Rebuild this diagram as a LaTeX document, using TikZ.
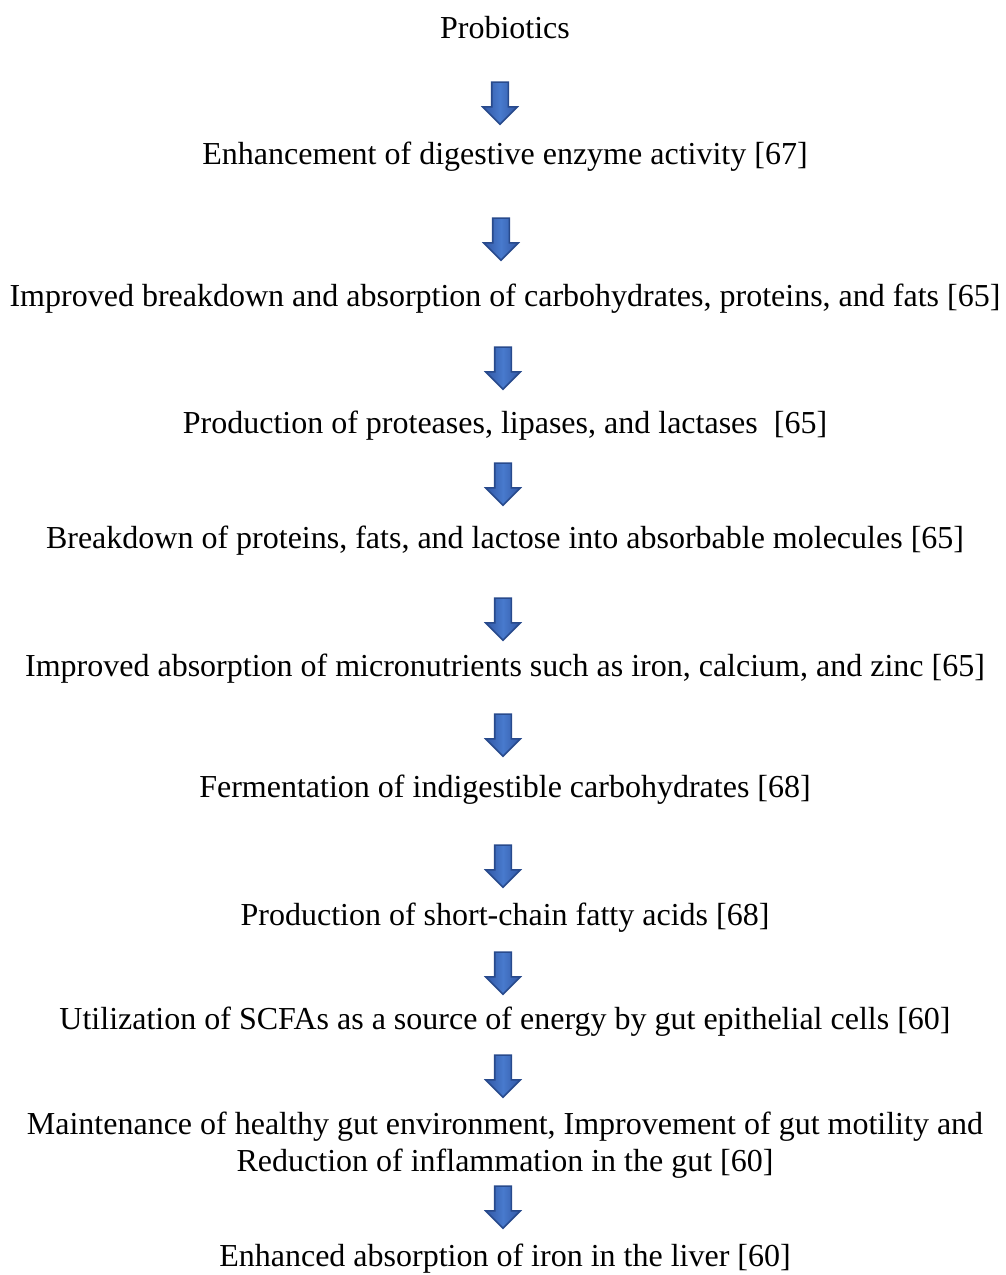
\documentclass[tikz,border=0pt]{standalone}
\usepackage{fontspec}
\setmainfont{Liberation Serif}
\usepackage{tikz}
\usetikzlibrary{positioning,shapes.arrows}
\definecolor{arrowedge}{RGB}{40,74,140}
\definecolor{arrowfill}{RGB}{50,88,165}
\definecolor{arrowmid}{RGB}{72,122,205}

\begin{document}
\begin{tikzpicture}[x=1pt,y=-1pt,
  step text/.style={inner sep=0pt,align=center,font=\fontsize{32}{37}\selectfont},
  blkarrow/.style={single arrow,shape border rotate=270,inner sep=7.5pt,
    single arrow head extend=9pt,minimum height=42pt,draw=arrowedge,line width=1.6pt,
    left color=arrowfill,right color=arrowfill,middle color=arrowmid}]
  \useasboundingbox (0,0) rectangle (1006,1275);
  \node[step text] (s0) at (505,28) {Probiotics};
  \node[step text] (s1) at (505,157) {Enhancement of digestive enzyme activity [67]};
  \node[step text] (s2) at (505,299) {Improved breakdown and absorption of carbohydrates, proteins, and fats [65]};
  \node[step text] (s3) at (505,426) {Production of proteases, lipases, and lactases~~[65]};
  \node[step text] (s4) at (505,541) {Breakdown of proteins, fats, and lactose into absorbable molecules [65]};
  \node[step text] (s5) at (505,669) {Improved absorption of micronutrients such as iron, calcium, and zinc [65]};
  \node[step text] (s6) at (505,790) {Fermentation of indigestible carbohydrates [68]};
  \node[step text] (s7) at (505,918) {Production of short-chain fatty acids [68]};
  \node[step text] (s8) at (505,1022) {Utilization of SCFAs as a source of energy by gut epithelial cells [60]};
  \node[step text] (s9) at (505,1145) {Maintenance of healthy gut environment, Improvement of gut motility and\\Reduction of inflammation in the gut [60]};
  \node[step text] (s10) at (505,1259) {Enhanced absorption of iron in the liver [60]};
  % block arrows between the steps
  \foreach \x/\y [count=\i] in {500/99,501/235,503/364,503/480,503/615,503/731,503/862,503/969,503/1072,503/1203}
    \node[blkarrow] (a\i) at (\x,\y) {};
\end{tikzpicture}
\end{document}
